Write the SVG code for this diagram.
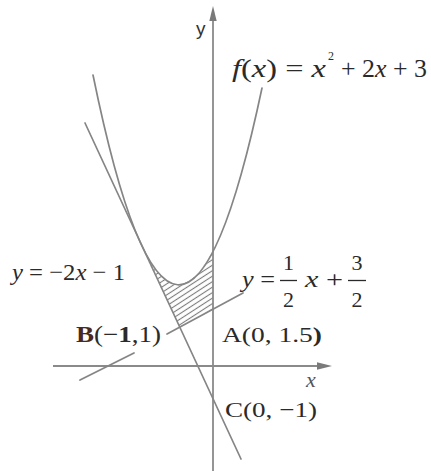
<svg xmlns="http://www.w3.org/2000/svg" width="431" height="471" viewBox="0 0 431 471">
<style>
.ln{fill:none;stroke:#858585;stroke-width:1.7;stroke-linecap:round}
.ax{fill:none;stroke:#8a8a8a;stroke-width:1.8}
.ah{fill:#7a7a7a}
.t{font-family:"Liberation Serif","Times New Roman",serif;fill:#2a2a2a}
.it{font-style:italic}
.b{font-weight:bold}
.bar{stroke:#2a2a2a;stroke-width:1.3}
</style>
<defs>
<pattern id="hatch" patternUnits="userSpaceOnUse" width="10" height="4.6" patternTransform="rotate(-33)">
<line x1="0" y1="2.3" x2="10" y2="2.3" stroke="#7a7a7a" stroke-width="1.1"/>
</pattern>
</defs>
<rect width="431" height="471" fill="#ffffff"/>
<g id="region">
<path d="M141.4,246.7 Q177.2,320 213,250 L213,309.4 L179.8,327.2 Z" fill="url(#hatch)"/>
</g>
<g id="axes">
<line class="ax" x1="213" y1="16" x2="213" y2="471"/>
<polygon class="ah" points="213,6 209.3,21 216.7,21"/>
<line class="ax" x1="53" y1="366" x2="320" y2="366"/>
<polygon class="ah" points="332,366 317,362.3 317,369.7"/>
<text class="t" x="196" y="35" style="font-family:'Liberation Sans',Arial,sans-serif;font-size:19px;fill:#333">y</text>
<text class="t it" x="306" y="387" style="font-size:22px;fill:#555">x</text>
</g>
<g id="curves">
<path class="ln" d="M93,75 Q177.5,488 262,88"/>
<line class="ln" x1="85" y1="123" x2="241" y2="459"/>
<line class="ln" x1="80" y1="380" x2="134" y2="353"/>
<line class="ln" x1="167" y1="334" x2="243" y2="293"/>
</g>
<g id="label-f">
<text class="t" x="232" y="77" textLength="94" lengthAdjust="spacingAndGlyphs" style="font-size:26px"><tspan class="it">f</tspan>(<tspan class="it">x</tspan>) = <tspan class="it">x</tspan></text>
<text class="t" x="328" y="60" style="font-size:12px">2</text>
<text class="t" x="341" y="77" textLength="86" lengthAdjust="spacingAndGlyphs" style="font-size:26px">+ 2<tspan class="it">x</tspan> + 3</text>
</g>
<g id="label-tangent">
<text class="t" x="12" y="280" textLength="113" lengthAdjust="spacingAndGlyphs" style="font-size:24px"><tspan class="it">y</tspan> = −2<tspan class="it">x</tspan> − 1</text>
</g>
<g id="label-line">
<text class="t" x="242" y="287" textLength="33" lengthAdjust="spacingAndGlyphs" style="font-size:24px"><tspan class="it">y</tspan> =</text>
<text class="t" x="288.5" y="270" text-anchor="middle" style="font-size:22px">1</text>
<line class="bar" x1="280" y1="280.5" x2="297" y2="280.5"/>
<text class="t" x="288.5" y="307" text-anchor="middle" style="font-size:22px">2</text>
<text class="t" x="305" y="287" textLength="38" lengthAdjust="spacingAndGlyphs" style="font-size:24px"><tspan class="it">x</tspan> +</text>
<text class="t" x="357" y="270" text-anchor="middle" style="font-size:22px">3</text>
<line class="bar" x1="348" y1="280.5" x2="366" y2="280.5"/>
<text class="t" x="357" y="307" text-anchor="middle" style="font-size:22px">2</text>
</g>
<g id="label-B">
<text class="t" x="76" y="342" textLength="85" lengthAdjust="spacingAndGlyphs" style="font-size:23px"><tspan class="b" style="fill:#4a2a1e">B</tspan>(−<tspan class="b">1</tspan>,1)</text>
</g>
<g id="label-A">
<text class="t" x="222" y="342" textLength="100" lengthAdjust="spacingAndGlyphs" style="font-size:22px">A(0, 1.5<tspan class="b">)</tspan></text>
</g>
<g id="label-C">
<text class="t" x="225" y="417" textLength="92" lengthAdjust="spacingAndGlyphs" style="font-size:22px">C(0, −1)</text>
</g>
</svg>
